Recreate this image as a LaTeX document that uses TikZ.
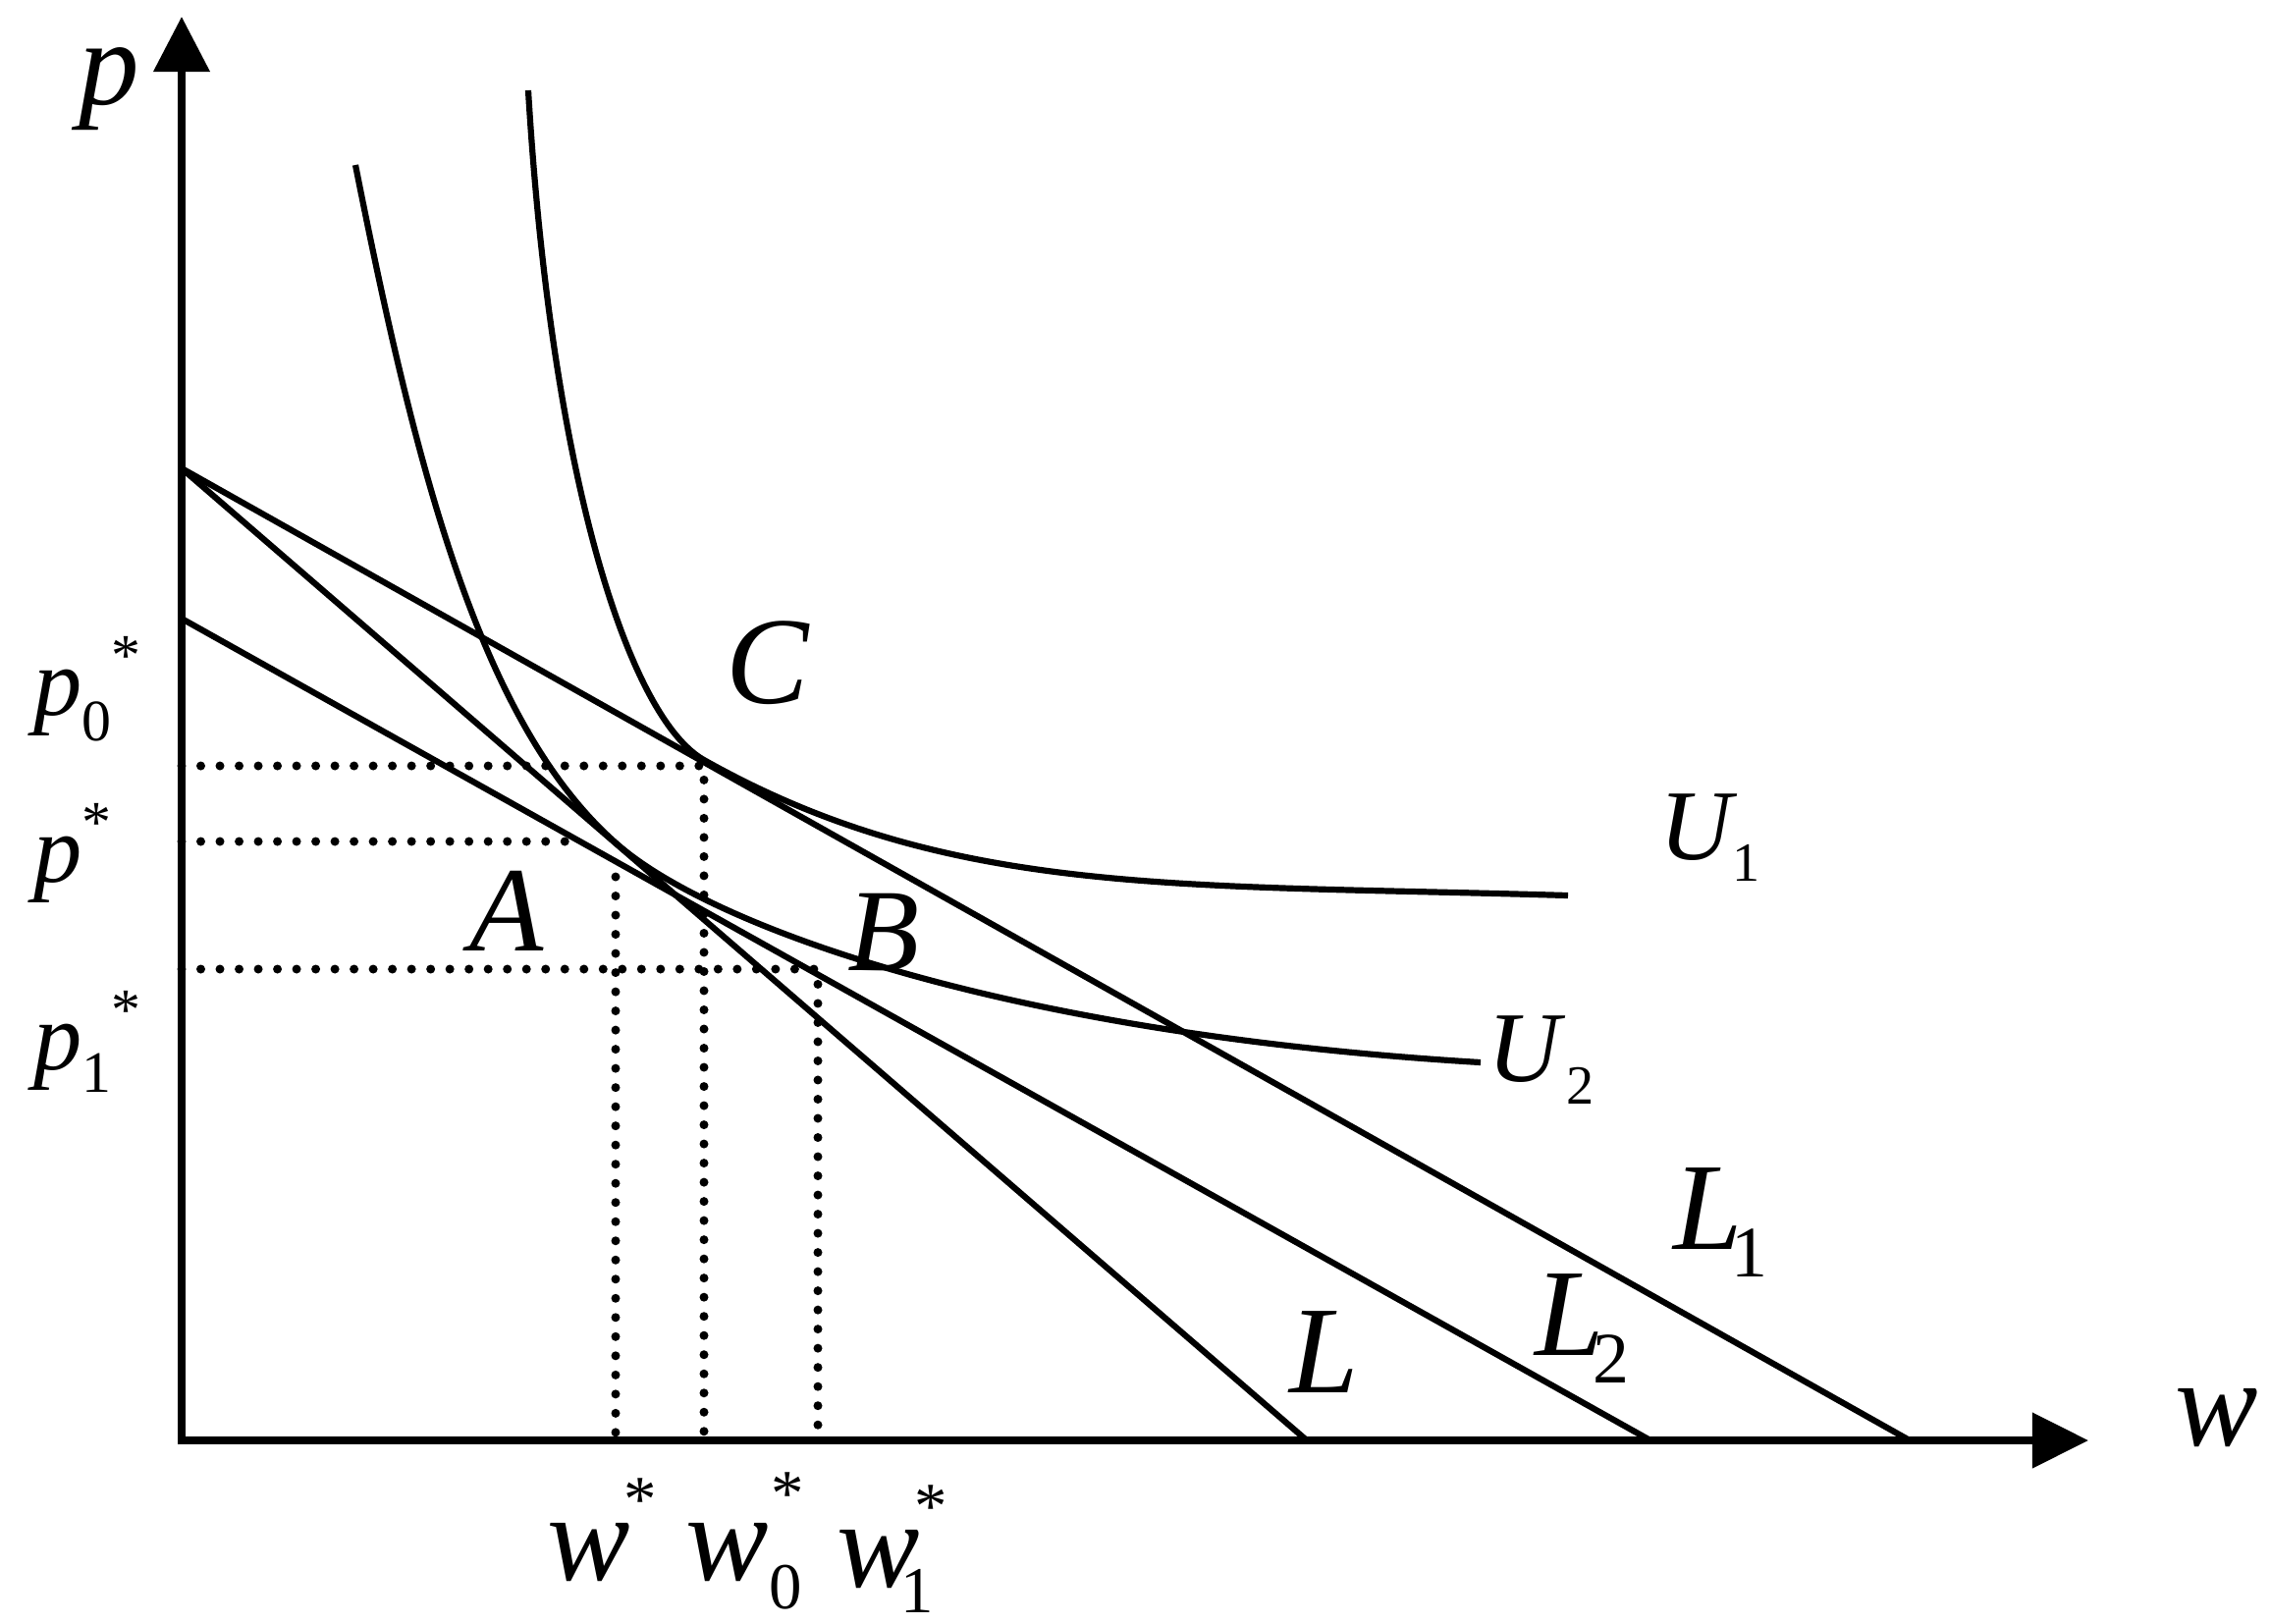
\documentclass[tikz,border=0pt]{standalone}
\usepackage{fontspec}
\setmainfont{Liberation Serif}
\usetikzlibrary{arrows.meta}
\newcommand{\fsz}[1]{\fontsize{#1}{#1}\selectfont}
\tikzset{
  axisline/.style={line width=0.075cm, {Triangle[length=0.56cm,width=0.56cm]}-{Triangle[length=0.57cm,width=0.55cm]}},
  budget/.style={line width=0.062cm},
  indiff/.style={line width=0.062cm, line join=round},
  dotline/.style={line width=0.09cm, line cap=round, dash pattern=on 0pt off 0.195cm},
  lab/.style={inner sep=0pt, anchor=base west}
}
\begin{document}
\begin{tikzpicture}[x=0.01cm, y=-0.01cm]
\useasboundingbox (0,0) rectangle (2312,1653);
\fill[white] (0,0) rectangle (2312,1653);

% axes
\coordinate (O) at (185,1467);
\coordinate (ytip) at (185,17);
\coordinate (xtip) at (2127,1467);
\draw[axisline] (ytip) -- (O) -- (xtip);

% budget lines
\coordinate (top1) at (185,477);
\coordinate (top2) at (185,630);
\coordinate (footL1) at (1945,1467);
\coordinate (footL) at (1331,1467);
\coordinate (footL2) at (1681,1467);
\draw[budget] (top1) -- (footL1);
\draw[budget] (top1) -- (footL);
\draw[budget] (top2) -- (footL2);

% indifference curves
\coordinate (U1top) at (538,92);
\coordinate (U1mid) at (717,774);
\coordinate (U1end) at (1597,912);
\draw[indiff] (U1top) .. controls (562,492) and (642,732) .. (U1mid)
  .. controls (967,914.6) and (1200,900) .. (U1end);
\coordinate (U2top) at (362,168);
\coordinate (U2mid) at (630,861);
\coordinate (U2end) at (1508,1082);
\draw[indiff] (U2top) .. controls (424,480) and (490,740) .. (U2mid)
  .. controls (720,938.8) and (1008,1052) .. (U2end);

% dotted guides
\coordinate (p0a) at (185,780);
\coordinate (Cpt) at (717,780);
\coordinate (w0a) at (717,1467);
\coordinate (pa) at (185,857);
\coordinate (pb) at (578,857);
\coordinate (wa) at (627,893);
\coordinate (wb) at (627,1467);
\coordinate (p1a) at (185,987);
\coordinate (Bpt) at (833,987);
\coordinate (w1a) at (833,1467);
\draw[dotline] (p0a) -- (Cpt) -- (w0a);
\draw[dotline] (pa) -- (pb);
\draw[dotline] (wa) -- (wb);
\draw[dotline] (p1a) -- (Bpt) -- (w1a);

% labels
\node[lab] (plab) at (80,106) {\fsz{35}\itshape p};
\node[lab] (wlab) at (2215,1472) {\fsz{36}\itshape w};
\node[lab] (Clab) at (739,716) {\fsz{36}\itshape C};
\node[lab] (Alab) at (478,968) {\fsz{35}\itshape A};
\node[lab] (Blab) at (863,988) {\fsz{34}\itshape B};
\node[lab] (U1lab) at (1690,875) {{\fsz{29}\itshape U}{\fsz{16}\raisebox{-6.5pt}{1}}};
\node[lab] (U2lab) at (1515,1101) {{\fsz{29}\itshape U}\hspace{1.7pt}{\fsz{16}\raisebox{-6.8pt}{2}}};
\node[lab] (L1lab) at (1704,1272) {{\fsz{36}\itshape L}\hspace{-3.4pt}{\fsz{21}\raisebox{-8pt}{1}}};
\node[lab] (L2lab) at (1563,1380) {{\fsz{36}\itshape L}\hspace{-3.4pt}{\fsz{21}\raisebox{-8pt}{2}}};
\node[lab] (Llab) at (1313,1418) {\fsz{36}\itshape L};
\node[lab] (p0lab) at (34,728) {{\fsz{28}\itshape p}{\fsz{17}\raisebox{-7.4pt}{0}\raisebox{11.4pt}{*}}};
\node[lab] (pslab) at (34,898) {{\fsz{28}\itshape p}{\fsz{17}\raisebox{11.4pt}{*}}};
\node[lab] (p1lab) at (34,1089) {{\fsz{28}\itshape p}{\fsz{17}\raisebox{-6.8pt}{1}\raisebox{11.4pt}{*}}};
\node[lab] (wslab) at (557,1609) {{\fsz{36}\itshape w}\hspace{-2pt}{\fsz{19}\raisebox{17pt}{*}}};
\node[lab] (w0lab) at (698,1609) {{\fsz{36}\itshape w}{\fsz{19}\rlap{\raisebox{-8.5pt}{0}}\hspace{0.6pt}\raisebox{18.6pt}{*}}};
\node[lab] (w1lab) at (852,1616) {{\fsz{36}\itshape w}\hspace{-5.7pt}{\fsz{19}\rlap{\raisebox{-7.5pt}{1}}\hspace{4pt}\raisebox{17pt}{*}}};
\end{tikzpicture}
\end{document}
